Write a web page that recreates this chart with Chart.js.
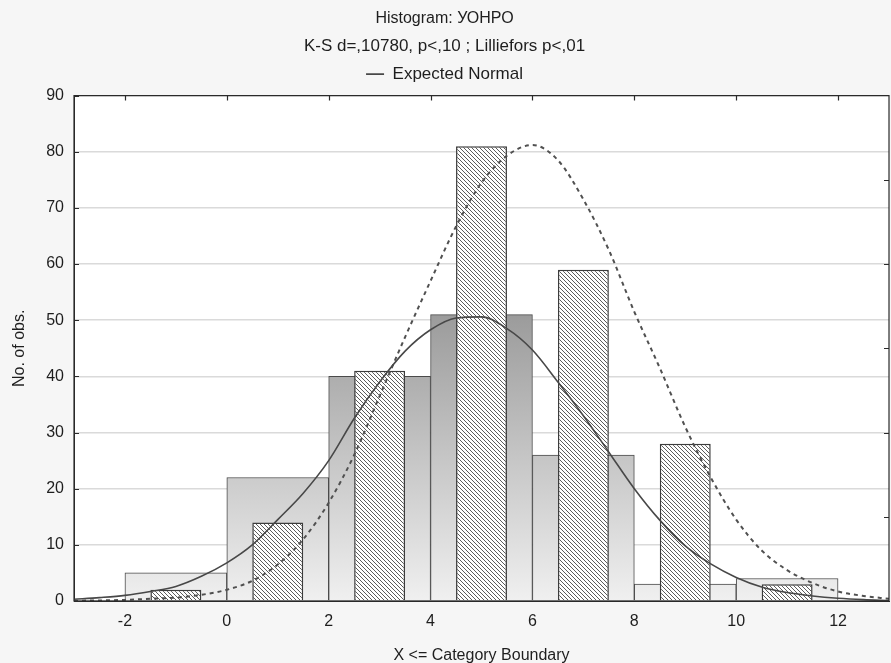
<!DOCTYPE html>
<html>
<head>
<meta charset="utf-8">
<script src="https://cdn.jsdelivr.net/npm/chart.js@4"></script>
<style>
  html, body { margin: 0; padding: 0; background: #f6f6f6; }
  #wrap { width: 891px; height: 663px; }
</style>
</head>
<body>
<div id="wrap"><canvas id="chart"></canvas></div>
<script>
// histogram bins (centres), two variables sharing the same bins
const binCenters = [-1, 1, 3, 5, 7, 9, 11];
const countsWide = [5, 22, 40, 51, 26, 3, 4];
const countsNarrow = [2, 14, 41, 81, 59, 28, 3];

// expected normal curves, every 0.5
const curveX = [-3, -2.5, -2, -1.5, -1, -0.5, 0, 0.5, 1, 1.5, 2, 2.5, 3, 3.5, 4, 4.5, 5,
  5.5, 6, 6.5, 7, 7.5, 8, 8.5, 9, 9.5, 10, 10.5, 11, 11.5, 12, 12.5, 13];
const normalSolid = [0.3, 0.6, 1.0, 1.7, 2.6, 4.4, 6.8, 10.0, 14.5, 19.2, 25.0, 32.5, 39.0, 44.5, 48.3, 50.4, 50.6,
  48.5, 44.7, 39.0, 33.0, 26.5, 20.0, 14.4, 9.8, 6.6, 4.2, 2.5, 1.5, 0.9, 0.5, 0.25, 0.1];
const normalDashed = [0.05, 0.1, 0.2, 0.4, 0.6, 1.1, 2.0, 3.6, 6.5, 11.0, 17.5, 26.0, 36.5, 47.0, 57.0, 66.7, 74.5,
  79.3, 81.2, 78.5, 71.5, 62.5, 51.5, 41.5, 31.0, 22.0, 14.5, 9.0, 5.5, 3.2, 1.7, 0.9, 0.4];

const xTickValues = [-2, 0, 2, 4, 6, 8, 10, 12];
const rightTickValues = [15, 30, 45, 60, 75];

Chart.defaults.font.family = '"Liberation Sans", Arial, sans-serif';
Chart.defaults.font.size = 16;
Chart.defaults.color = '#1e1e1e';

function hatchPattern(ctx) {
    var c = document.createElement('canvas');
    c.width = 4;
    c.height = 4;
    var g = c.getContext('2d');
    g.fillStyle = '#ffffff';
    g.fillRect(0, 0, 4, 4);
    g.fillStyle = '#5c5c5c';
    for (var i = 0; i < 4; i++) g.fillRect(i, i, 1, 1);
    return ctx.createPattern(c, 'repeat');
}

function barGradient(context) {
    var chart = context.chart;
    if (!chart.chartArea) return '#dddddd';
    var y = chart.scales.y;
    var g = chart.ctx.createLinearGradient(0, y.getPixelForValue(0), 0, y.getPixelForValue(56));
    g.addColorStop(0, '#f0f0f0');
    g.addColorStop(1, '#939393');
    return g;
}

const backdrop = {
    id: 'backdrop',
    beforeDraw(chart) {
        var ctx = chart.ctx, a = chart.chartArea;
        ctx.save();
        ctx.fillStyle = '#f6f6f6';
        ctx.fillRect(0, 0, chart.width, chart.height);
        ctx.fillStyle = '#ffffff';
        ctx.fillRect(a.left, a.top, a.right - a.left, a.bottom - a.top);
        ctx.restore();
    }
};

// box round the plot with short inward ticks, as in the original
const frame = {
    id: 'frame',
    afterDraw(chart) {
        var ctx = chart.ctx, a = chart.chartArea;
        var x = chart.scales.x, y = chart.scales.y;
        ctx.save();
        ctx.strokeStyle = '#2a2a2a';
        ctx.lineWidth = 1.2;
        ctx.strokeRect(a.left, a.top, a.right - a.left, a.bottom - a.top);
        ctx.beginPath();
        xTickValues.forEach(function (v) {
            var px = Math.round(x.getPixelForValue(v)) + 0.5;
            ctx.moveTo(px, a.top);
            ctx.lineTo(px, a.top + 5);
        });
        y.ticks.forEach(function (t) {
            var py = Math.round(y.getPixelForValue(t.value)) + 0.5;
            ctx.moveTo(a.left, py);
            ctx.lineTo(a.left + 5, py);
        });
        rightTickValues.forEach(function (v) {
            var py = Math.round(y.getPixelForValue(v)) + 0.5;
            ctx.moveTo(a.right, py);
            ctx.lineTo(a.right - 5, py);
        });
        ctx.stroke();
        ctx.restore();
    }
};

const ctx = document.getElementById('chart').getContext('2d');
const hatch = hatchPattern(ctx);

new Chart(ctx, {
    type: 'bar',
    data: {
        datasets: [
            {
                type: 'line',
                label: 'Expected Normal',
                xAxisID: 'x',
                yAxisID: 'y',
                data: curveX.map((x, i) => ({ x: x, y: normalSolid[i] })),
                borderColor: '#484848',
                borderWidth: 1.6,
                pointRadius: 0,
                cubicInterpolationMode: 'monotone',
                order: 1
            },
            {
                type: 'line',
                label: 'Expected Normal (2)',
                xAxisID: 'x',
                yAxisID: 'y',
                data: curveX.map((x, i) => ({ x: x, y: normalDashed[i] })),
                borderColor: '#505050',
                borderWidth: 2,
                borderDash: [4, 4],
                pointRadius: 0,
                cubicInterpolationMode: 'monotone',
                order: 2
            },
            {
                label: 'narrow',
                xAxisID: 'x',
                yAxisID: 'y',
                data: binCenters.map((x, i) => ({ x: x, y: countsNarrow[i] })),
                backgroundColor: hatch,
                borderColor: '#3c3c3c',
                borderWidth: 1.5,
                grouped: false,
                categoryPercentage: 1,
                barPercentage: 0.5,
                order: 3
            },
            {
                label: 'wide',
                xAxisID: 'x',
                yAxisID: 'y',
                data: binCenters.map((x, i) => ({ x: x, y: countsWide[i] })),
                backgroundColor: barGradient,
                borderColor: '#4a4a4a',
                borderWidth: 1,
                grouped: false,
                categoryPercentage: 1,
                barPercentage: 1,
                order: 4
            }
        ]
    },
    options: {
        responsive: true,
        maintainAspectRatio: false,
        animation: false,
        layout: { padding: { left: 0, right: 2, top: 0, bottom: 0 } },
        plugins: {
            tooltip: { enabled: false },
            title: {
                display: true,
                text: 'Histogram: УОНРО',
                font: { size: 16, weight: 'normal' },
                color: '#1e1e1e',
                padding: { top: 9, bottom: 8 }
            },
            subtitle: {
                display: true,
                text: 'K-S d=,10780, p<,10 ; Lilliefors p<,01',
                font: { size: 17 },
                color: '#1e1e1e',
                padding: { top: 0, bottom: 0 }
            },
            legend: {
                display: true,
                labels: {
                    filter: item => item.text === 'Expected Normal',
                    usePointStyle: true,
                    pointStyle: 'line',
                    pointStyleWidth: 18,
                    color: '#1e1e1e',
                    font: { size: 17 },
                    padding: 9
                }
            }
        },
        scales: {
            x: {
                type: 'linear',
                min: -3,
                max: 13,
                offset: false,
                afterBuildTicks: s => { s.ticks = xTickValues.map(v => ({ value: v })); },
                afterFit: s => { s.height = 62; },
                grid: { display: true, drawOnChartArea: false, drawTicks: false },
                border: { color: '#2a2a2a' },
                ticks: { padding: 11, color: '#1e1e1e' },
                title: { display: true, text: 'X <= Category Boundary', color: '#1e1e1e', padding: { top: 0, bottom: -2 } }
            },
            // empty strip between legend and plot
            xTop: {
                type: 'linear',
                position: 'top',
                min: -3,
                max: 13,
                afterFit: s => { s.height = 3; },
                ticks: { display: false },
                grid: { display: false },
                border: { display: false }
            },
            y: {
                min: 0,
                max: 90,
                afterFit: s => { s.width = 74; },
                grid: { color: '#dadada', lineWidth: 1.5, drawTicks: false },
                border: { color: '#2a2a2a' },
                ticks: { stepSize: 10, padding: 10, color: '#1e1e1e' },
                title: { display: true, text: 'No. of obs.', color: '#1e1e1e', padding: { top: 10, bottom: 0 } }
            }
        }
    },
    plugins: [backdrop, frame]
});
</script>
</body>
</html>
